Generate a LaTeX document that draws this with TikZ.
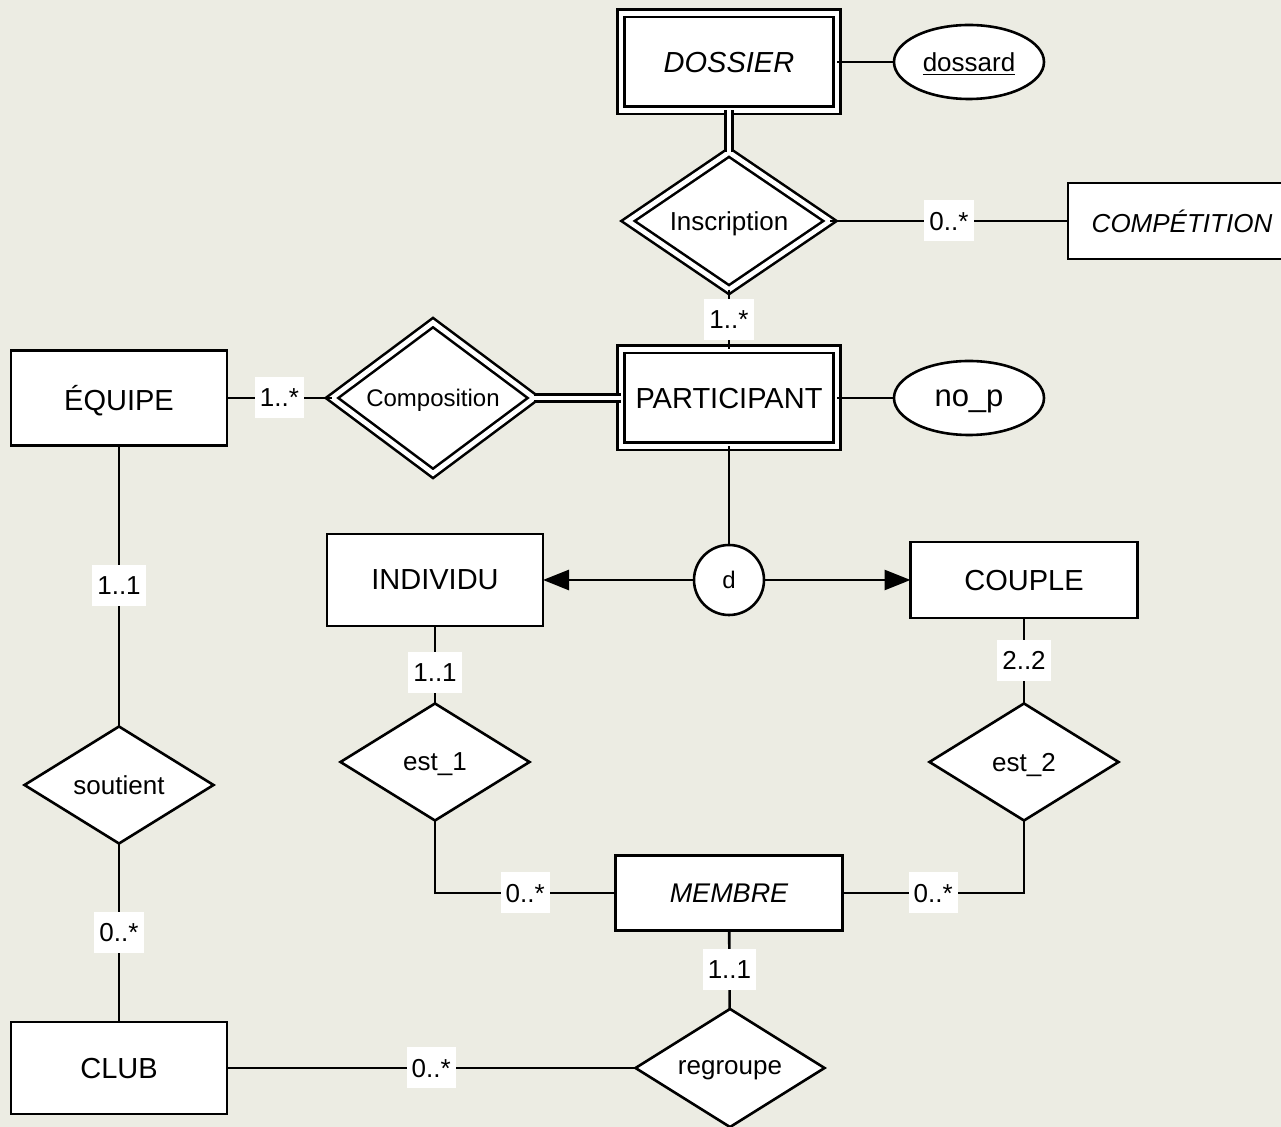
\documentclass[tikz,border=0pt]{standalone}
\usepackage{fontspec}
\setmainfont{Liberation Sans}
\usetikzlibrary{shapes.geometric,arrows.meta}
\definecolor{paper}{RGB}{236,236,227}

\begin{document}
\begin{tikzpicture}[x=0.5pt, y=-0.5pt, line width=1.3pt, every node/.style={text depth=0pt},
  entity/.style={draw, fill=white, rectangle, inner sep=0pt, outer sep=0pt, minimum width=108pt, minimum height=47.5pt, font=\fontsize{14.5}{17}\selectfont},
  weak/.style={entity, double, double distance=2.4pt, minimum height=48.5pt},
  rel/.style={draw, fill=white, diamond, inner sep=0pt, outer sep=0pt, minimum width=94.5pt, minimum height=58.5pt, font=\fontsize{13}{15}\selectfont},
  weakrel/.style={rel, double, double distance=2.4pt, minimum width=101pt, minimum height=64.5pt},
  attr/.style={draw, fill=white, ellipse, inner sep=0pt, outer sep=0pt, minimum width=75pt, minimum height=37pt, font=\fontsize{13}{15}\selectfont},
  card/.style={fill=white, inner xsep=2.5pt, inner ysep=0pt, minimum height=20.5pt, font=\fontsize{13}{15}\selectfont},
  dbl/.style={double, double distance=2.4pt},
  isa/.style={-{Triangle[length=13pt,width=10pt]}}]
\fill[paper] (0,0) rectangle (1281,1127);
\useasboundingbox (0,0) rectangle (1281,1127);
% top: dossier and inscription
\node[weak] (dossier) at (729,62) {\itshape DOSSIER};
\node[attr] (dossard) at (969,62) {\underline{dossard}};
\node[weakrel] (inscription) at (729,221) {Inscription};
\node[entity, minimum width=114pt, minimum height=38pt, font=\fontsize{13}{15}\selectfont] (competition) at (1182,221) {\itshape COMPÉTITION};
% participant row
\node[weak] (participant) at (729,398) {PARTICIPANT};
\node[attr, font=\fontsize{15.5}{18}\selectfont] (nop) at (969,398) {no\_p};
\node[weakrel, font=\fontsize{12}{14}\selectfont] (composition) at (433,398) {Composition};
\node[entity] (equipe) at (119,398) {ÉQUIPE};
% specialisation
\node[draw, fill=white, circle, minimum size=35pt, inner sep=0pt, outer sep=0pt, font=\fontsize{12}{14}\selectfont] (disj) at (729,580) {d};
\node[entity, minimum height=46pt] (individu) at (435,580) {INDIVIDU};
\node[entity, minimum width=113.5pt, minimum height=38pt] (couple) at (1024,580) {COUPLE};
\node[rel] (est1) at (435,762) {est\_1};
\node[rel] (est2) at (1024,762) {est\_2};
% bottom
\node[entity, minimum width=113.5pt, minimum height=37.5pt, font=\fontsize{13.5}{16}\selectfont] (membre) at (729,893) {\itshape MEMBRE};
\node[rel] (regroupe) at (730,1068) {regroupe};
\node[rel] (soutient) at (119,785) {soutient};
\node[entity, minimum height=46pt] (club) at (119,1068) {CLUB};

\draw (dossier) -- (dossard);
\draw[dbl] (dossier) -- (inscription);
\draw (inscription) -- node[card] {0..*} (competition);
\draw (inscription) -- node[card] {1..*} (participant);
\draw (participant) -- (nop);
\draw[dbl] (composition) -- (participant);
\draw (equipe) -- node[card] {1..*} (composition);
\draw (participant) -- (disj);
\draw[isa] (disj) -- (individu);
\draw[isa] (disj) -- (couple);
\draw (equipe) -- node[card] {1..1} (soutient);
\draw (soutient) -- node[card] {0..*} (club);
\draw (club) -- node[card] {0..*} (regroupe);
\draw (individu) -- node[card, pos=0.6] {1..1} (est1);
\draw (couple) -- node[card] {2..2} (est2);
\draw (est1) |- node[card, pos=0.75] {0..*} (membre);
\draw (est2) |- node[card, pos=0.75] {0..*} (membre);
\draw (membre) -- node[card] {1..1} (regroupe);
\end{tikzpicture}
\end{document}
